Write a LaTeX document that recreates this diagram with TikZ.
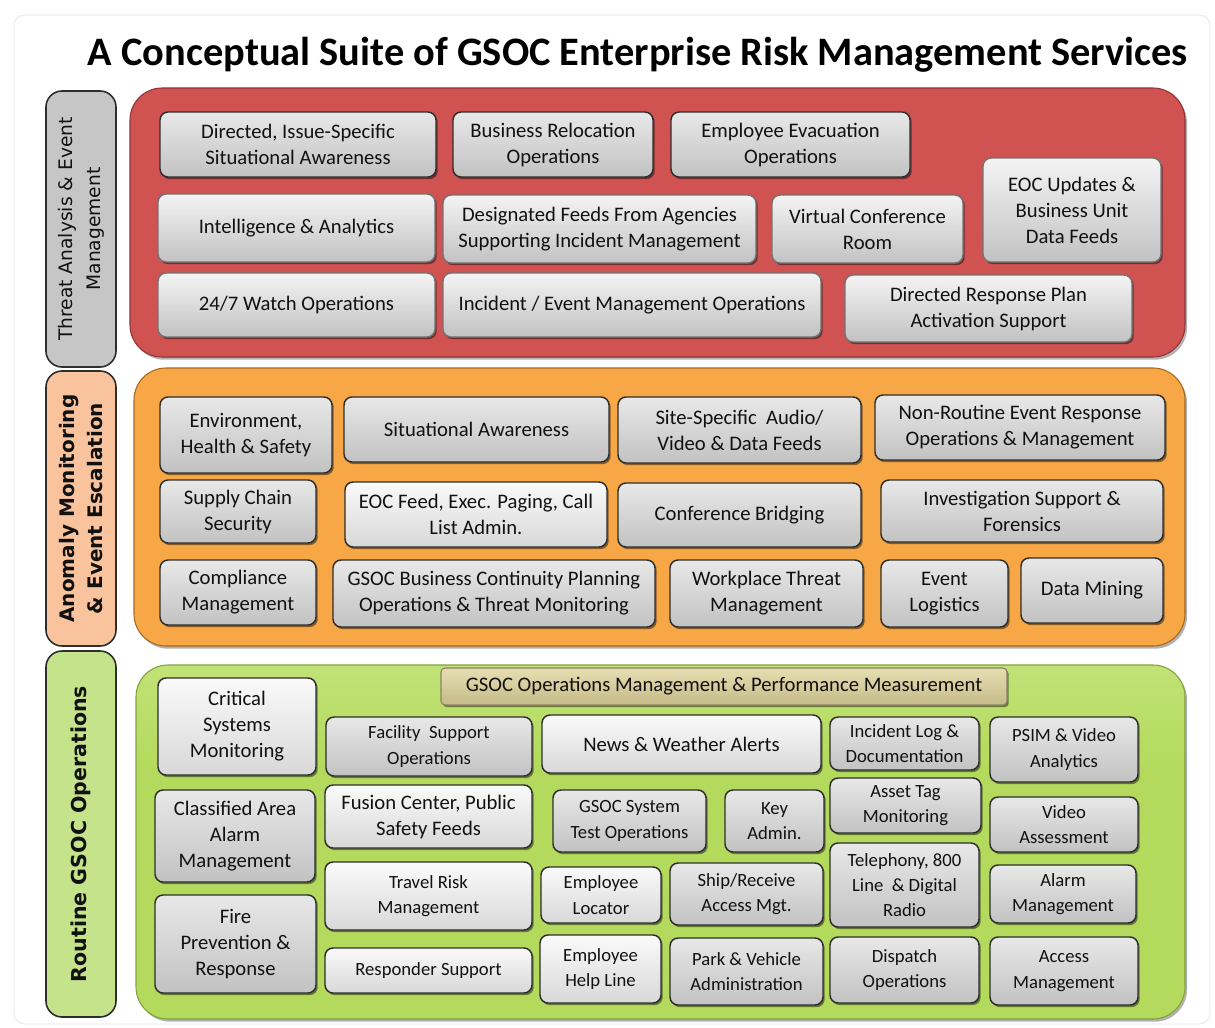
\documentclass[tikz,border=0pt]{standalone}
\usepackage{fontspec}
\setmainfont{Carlito}
\newfontfamily\sidefont{DejaVu Sans}
\usetikzlibrary{fit,shadows}
\definecolor{boxline}{HTML}{2E2E2E}
\definecolor{gtop}{HTML}{E8E8E8}
\definecolor{gbot}{HTML}{C2C2C2}
\definecolor{ltop}{HTML}{FAFAFA}
\definecolor{lbot}{HTML}{D8D8D8}
\definecolor{redf}{HTML}{D05351}
\definecolor{redtop}{HTML}{E27878}
\definecolor{redline}{HTML}{8E3434}
\definecolor{orf}{HTML}{F7A745}
\definecolor{ortop}{HTML}{FCDCA2}
\definecolor{orline}{HTML}{A8681E}
\definecolor{grf}{HTML}{B3DA5C}
\definecolor{grtop}{HTML}{D8EFA2}
\definecolor{grline}{HTML}{7FA23C}
\definecolor{tantop}{HTML}{E6DEB2}
\definecolor{tanbot}{HTML}{C5BA88}
\definecolor{tanline}{HTML}{8C8262}
\definecolor{sgray}{HTML}{C6C6C6}
\definecolor{speach}{HTML}{F9C39E}
\definecolor{sgreen}{HTML}{C4E38A}
\definecolor{txt}{HTML}{111111}
\pgfdeclareverticalshading{redshade}{100bp}{color(0bp)=(redf); color(88bp)=(redf); color(97bp)=(redtop); color(100bp)=(redtop)}
\pgfdeclareverticalshading{orshade}{100bp}{color(0bp)=(orf); color(85bp)=(orf); color(96bp)=(ortop); color(100bp)=(ortop)}
\pgfdeclareverticalshading{grshade}{100bp}{color(0bp)=(grf); color(60bp)=(grf); color(100bp)=(grtop)}
\newcommand\fA{\fontsize{15.5}{19.5}\selectfont}
\newcommand\fB{\fontsize{14}{19}\selectfont}
\newcommand\bx[7]{\node[#6, minimum width={(#4-#2)*0.75pt}, minimum height={(#5-#3)*0.75pt}] (#1) at ({(#2+#4)/2},{(#3+#5)/2}) {#7};}
\begin{document}
\begin{tikzpicture}[x=0.75pt,y=-0.75pt,
  shad/.style={drop shadow={shadow xshift=1.3pt, shadow yshift=-1.6pt, opacity=0.45, fill=black}},
  gbox/.style={draw=boxline, line width=1.1pt, rounded corners=6pt, top color=gtop, bottom color=gbot,
    inner sep=0pt, align=center, font=\fA, text=txt, shad},
  gboxb/.style={gbox, draw=black!55, top color=ltop!95!gray},
  gboxs/.style={gbox, font=\fB},
  lbox/.style={gbox, top color=ltop, bottom color=lbot},
  lboxs/.style={lbox, font=\fB},
  tbox/.style={gbox, draw=tanline, line width=0.8pt, rounded corners=3pt, top color=tantop, bottom color=tanbot},
  panel/.style={inner sep=0pt, line width=0.8pt, rounded corners=24pt,
    drop shadow={shadow xshift=1.5pt, shadow yshift=-2pt, opacity=0.3, fill=black}},
  side/.style={inner sep=0pt, draw=boxline, line width=1.2pt, rounded corners=12pt},
  sidetxt/.style={rotate=90, align=center, text=txt}
]
\useasboundingbox[fill=white] (0,0) rectangle (1215,1028);
\draw[black!10, line width=0.6pt, rounded corners=8pt] (14,15) rectangle (1210,1024);
\node[font=\bfseries\fontsize{30.3}{36}\selectfont, anchor=base, text=black] (title) at (638,65)
  {A Conceptual Suite of GSOC Enterprise Risk Management Services};

% side labels
\node[side, fill=sgray, fit={(46,91) (116,367)}] (sThreat) {};
\node[sidetxt, font=\sidefont\fontsize{14}{21}\selectfont] (tThreat) at (sThreat.center)
  {Threat Analysis \& Event\\Management};
\node[side, fill=speach, fit={(46,371) (116,646)}] (sAnom) {};
\node[sidetxt, font=\sidefont\bfseries\fontsize{15}{21}\selectfont] (tAnom) at (sAnom.center)
  {Anomaly Monitoring\\\& Event Escalation};
\node[side, fill=sgreen, fit={(46,651) (116,1017)}] (sRout) {};
\node[sidetxt, font=\sidefont\bfseries\fontsize{15.4}{21}\selectfont] (tRout) at (sRout.center)
  {Routine GSOC Operations};

% panels
\node[panel, draw=redline, shading=redshade, fit={(130,88) (1185,357)}] (pRed) {};
\node[panel, draw=orline, shading=orshade, fit={(134,368) (1185,646)}] (pOr) {};
\node[panel, draw=grline, shading=grshade, fit={(136,665) (1185,1019)}] (pGr) {};

% red panel
\bx{r1}{160}{112}{436}{177}{gbox}{Directed, Issue-Specific\\Situational Awareness}
\bx{r2}{453}{112}{653}{177}{gbox}{Business Relocation\\Operations}
\bx{r3}{671}{112}{910}{177}{gbox}{Employee Evacuation\\Operations}
\bx{r4}{158}{194}{435}{262}{gboxb}{Intelligence \& Analytics}
\bx{r5}{443}{195}{756}{263}{gboxb}{Designated Feeds From Agencies\\Supporting Incident Management}
\bx{r6}{772}{195}{963}{263}{gboxb}{Virtual Conference\\Room}
\bx{r7}{983}{158}{1161}{262}{gboxb}{EOC Updates \&\\Business Unit\\Data Feeds}
\bx{r8}{158}{273}{435}{337}{gboxb}{24/7 Watch Operations}
\bx{r9}{443}{273}{821}{337}{gboxb}{Incident / Event Management Operations}
\bx{r10}{845}{275}{1132}{342}{gboxb}{Directed Response Plan\\Activation Support}

% orange panel
\bx{o1}{160}{397}{332}{473}{gbox}{Environment,\\Health \& Safety}
\bx{o2}{344}{397}{609}{462}{gbox}{Situational Awareness}
\bx{o3}{618}{397}{861}{463}{gbox}{Site-Specific~ Audio/\\Video \& Data Feeds}
\bx{o4}{875}{395}{1165}{460}{gbox}{Non-Routine Event Response\\Operations \& Management}
\bx{o5}{160}{480}{316}{543}{gbox}{Supply Chain\\Security}
\bx{o6}{345}{482}{607}{547}{lbox}{EOC Feed, Exec. Paging, Call\\List Admin.}
\bx{o7}{618}{483}{861}{547}{gbox}{Conference Bridging}
\bx{o8}{881}{480}{1163}{542}{gbox}{Investigation Support \&\\Forensics}
\bx{o9}{160}{560}{316}{625}{gbox}{Compliance\\Management}
\bx{o10}{333}{560}{655}{627}{gbox}{GSOC Business Continuity Planning\\Operations \& Threat Monitoring}
\bx{o11}{670}{560}{863}{627}{gbox}{Workplace Threat\\Management}
\bx{o12}{881}{560}{1008}{627}{gbox}{Event\\Logistics}
\bx{o13}{1021}{558}{1163}{623}{gbox}{Data Mining}

% green panel
\bx{gh}{441}{668}{1007}{705}{tbox}{GSOC Operations Management \& Performance Measurement}
\bx{g1}{158}{678}{316}{775}{lbox}{Critical\\Systems\\Monitoring}
\bx{g2}{326}{717}{532}{776}{gboxs}{Facility~ Support\\Operations}
\bx{g3}{155}{790}{315}{882}{gbox}{Classified Area\\Alarm\\Management}
\bx{g4}{325}{785}{532}{848}{lbox}{Fusion Center, Public\\Safety Feeds}
\bx{g5}{155}{895}{316}{993}{gbox}{Fire\\Prevention \&\\Response}
\bx{g6}{325}{862}{532}{930}{lboxs}{Travel Risk\\Management}
\bx{g7}{325}{948}{532}{993}{lboxs}{Responder Support}
\bx{g8}{542}{715}{821}{773}{lbox}{News \& Weather Alerts}
\bx{g9}{830}{717}{979}{770}{gboxs}{Incident Log \&\\Documentation}
\bx{g10}{990}{717}{1138}{782}{gboxs}{PSIM \& Video\\Analytics}
\bx{g11}{553}{790}{706}{852}{gboxs}{GSOC System\\Test Operations}
\bx{g12}{725}{790}{824}{852}{gboxs}{Key\\Admin.}
\bx{g13}{830}{778}{981}{833}{gboxs}{Asset Tag\\Monitoring}
\bx{g14}{990}{797}{1138}{852}{gboxs}{Video\\Assessment}
\bx{g15}{541}{867}{661}{923}{lboxs}{Employee\\Locator}
\bx{g16}{670}{863}{823}{925}{gboxs}{Ship/Receive\\Access Mgt.}
\bx{g17}{830}{843}{979}{927}{gboxs}{Telephony, 800\\Line~ \& Digital\\Radio}
\bx{g18}{990}{865}{1136}{923}{gboxs}{Alarm\\Management}
\bx{g19}{540}{935}{661}{1003}{lboxs}{Employee\\Help Line}
\bx{g20}{670}{938}{823}{1005}{gboxs}{Park \& Vehicle\\Administration}
\bx{g21}{830}{937}{979}{1003}{gboxs}{Dispatch\\Operations}
\bx{g22}{990}{937}{1138}{1005}{gboxs}{Access\\Management}
\end{tikzpicture}
\end{document}
